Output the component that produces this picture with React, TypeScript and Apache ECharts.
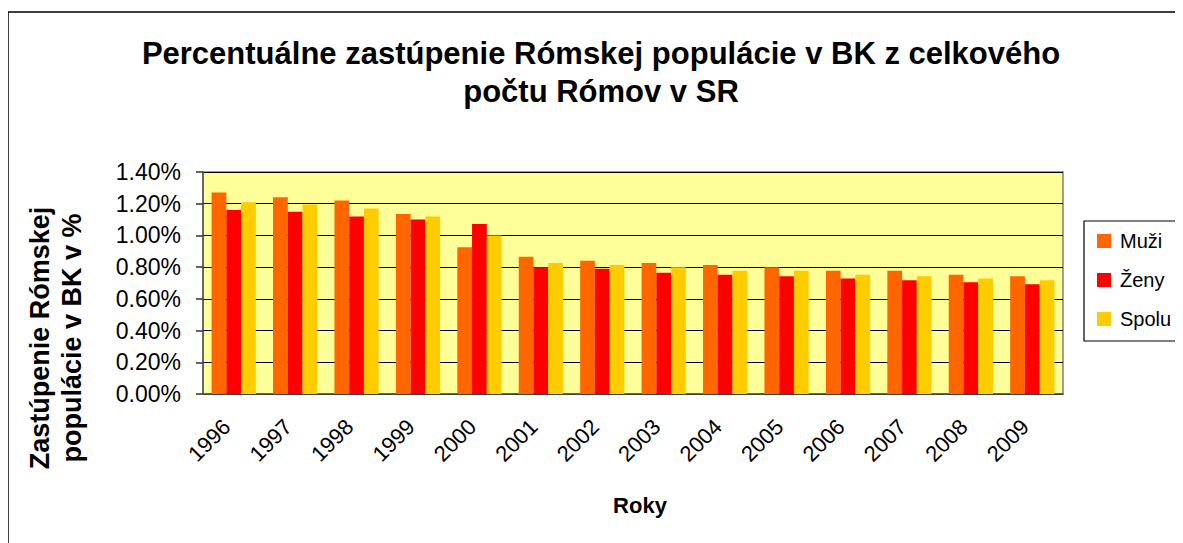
import React, { useEffect, useRef } from "react";
import * as echarts from "echarts";

const years = ["1996","1997","1998","1999","2000","2001","2002","2003","2004","2005","2006","2007","2008","2009"];
const muzi = [1.27,1.24,1.22,1.135,0.925,0.865,0.84,0.826,0.813,0.80,0.778,0.778,0.752,0.742];
const zeny = [1.16,1.15,1.12,1.10,1.072,0.80,0.79,0.765,0.752,0.742,0.729,0.717,0.704,0.692];
const spolu = [1.21,1.195,1.17,1.12,1.0,0.826,0.813,0.80,0.778,0.778,0.752,0.742,0.729,0.717];
const yTicks = { min: 0, max: 1.4, interval: 0.2 };
const titleText = "Percentuálne zastúpenie Rómskej populácie v BK z celkového\npočtu Rómov v SR";
const yTitle = "Zastúpenie Rómskej\npopulácie v BK v %";
const xTitle = "Roky";

const FONT = "'Liberation Sans', Arial, sans-serif";

export default function App() {
  const ref = useRef<HTMLDivElement>(null);
  useEffect(() => {
    document.body.style.overflow = "hidden";
    document.documentElement.style.overflow = "hidden";
    const chart = echarts.init(ref.current!, null, { renderer: "svg" });
    const mk = (name: string, data: number[], color: string) => ({
      name, type: "bar", data, barGap: "0%", barCategoryGap: "28%",
      itemStyle: { color },
    });
    chart.setOption({
      animation: false,
      backgroundColor: "#fff",
      textStyle: { fontFamily: FONT },
      grid: { left: 195, top: 164, width: 860, height: 222, show: true, backgroundColor: "#FFFF99", borderColor: "#808080", borderWidth: 1.5 },
      xAxis: {
        type: "category", data: years,
        axisLine: { lineStyle: { color: "#555", width: 1.5 } },
        axisTick: { length: 7, lineStyle: { color: "#333", width: 1.5 } },
        axisLabel: { rotate: 45, margin: 22, padding: [0, 10, 0, 0], fontSize: 22, color: "#000", fontFamily: FONT },
      },
      yAxis: {
        type: "value", min: yTicks.min, max: yTicks.max, interval: yTicks.interval,
        axisLine: { show: true, lineStyle: { color: "#555", width: 1.5 } },
        axisTick: { show: true, length: 7, lineStyle: { color: "#333", width: 1.5 } },
        axisLabel: { margin: 22, fontSize: 23, color: "#000", fontFamily: FONT, formatter: (v: number) => v.toFixed(2) + "%" },
        splitLine: { lineStyle: { color: "#000", width: 1.2 } },
      },
      legend: { show: false },
      series: [mk("Muži", muzi, "#FF6600"), mk("Ženy", zeny, "#FF0000"), mk("Spolu", spolu, "#FFCC00")],
      graphic: [
        { type: "rect", shape: { x: 0, y: 4, width: 1300, height: 700 }, style: { fill: "none", stroke: "#000", lineWidth: 1.5 }, silent: true },
        { type: "text", x: 593, y: 64, style: { text: titleText, textAlign: "center", textVerticalAlign: "middle", font: `bold 31px ${FONT}`, lineHeight: 38, fill: "#000" } },
        { type: "text", x: 48, y: 330, rotation: Math.PI / 2, style: { text: yTitle, textAlign: "center", textVerticalAlign: "middle", font: `bold 27px ${FONT}`, lineHeight: 32, fill: "#000" } },
        { type: "text", x: 632, y: 497, style: { text: xTitle, textAlign: "center", textVerticalAlign: "middle", font: `bold 22px ${FONT}`, fill: "#000" } },
        { type: "rect", shape: { x: 1076, y: 213, width: 200, height: 120 }, style: { fill: "#fff", stroke: "#000", lineWidth: 1.2 } },
        ...[["Muži", "#FF6600"], ["Ženy", "#FF0000"], ["Spolu", "#FFCC00"]].flatMap(([n, c], i) => [
          { type: "rect", shape: { x: 1089, y: 226 + i * 39, width: 14, height: 14 }, style: { fill: c } },
          { type: "text", x: 1112, y: 233 + i * 39, style: { text: n, textVerticalAlign: "middle", font: `20px ${FONT}`, fill: "#000" } },
        ]),
      ],
    });
    return () => chart.dispose();
  }, []);
  return <div ref={ref} style={{ width: 1220, height: 560 }} />;
}
